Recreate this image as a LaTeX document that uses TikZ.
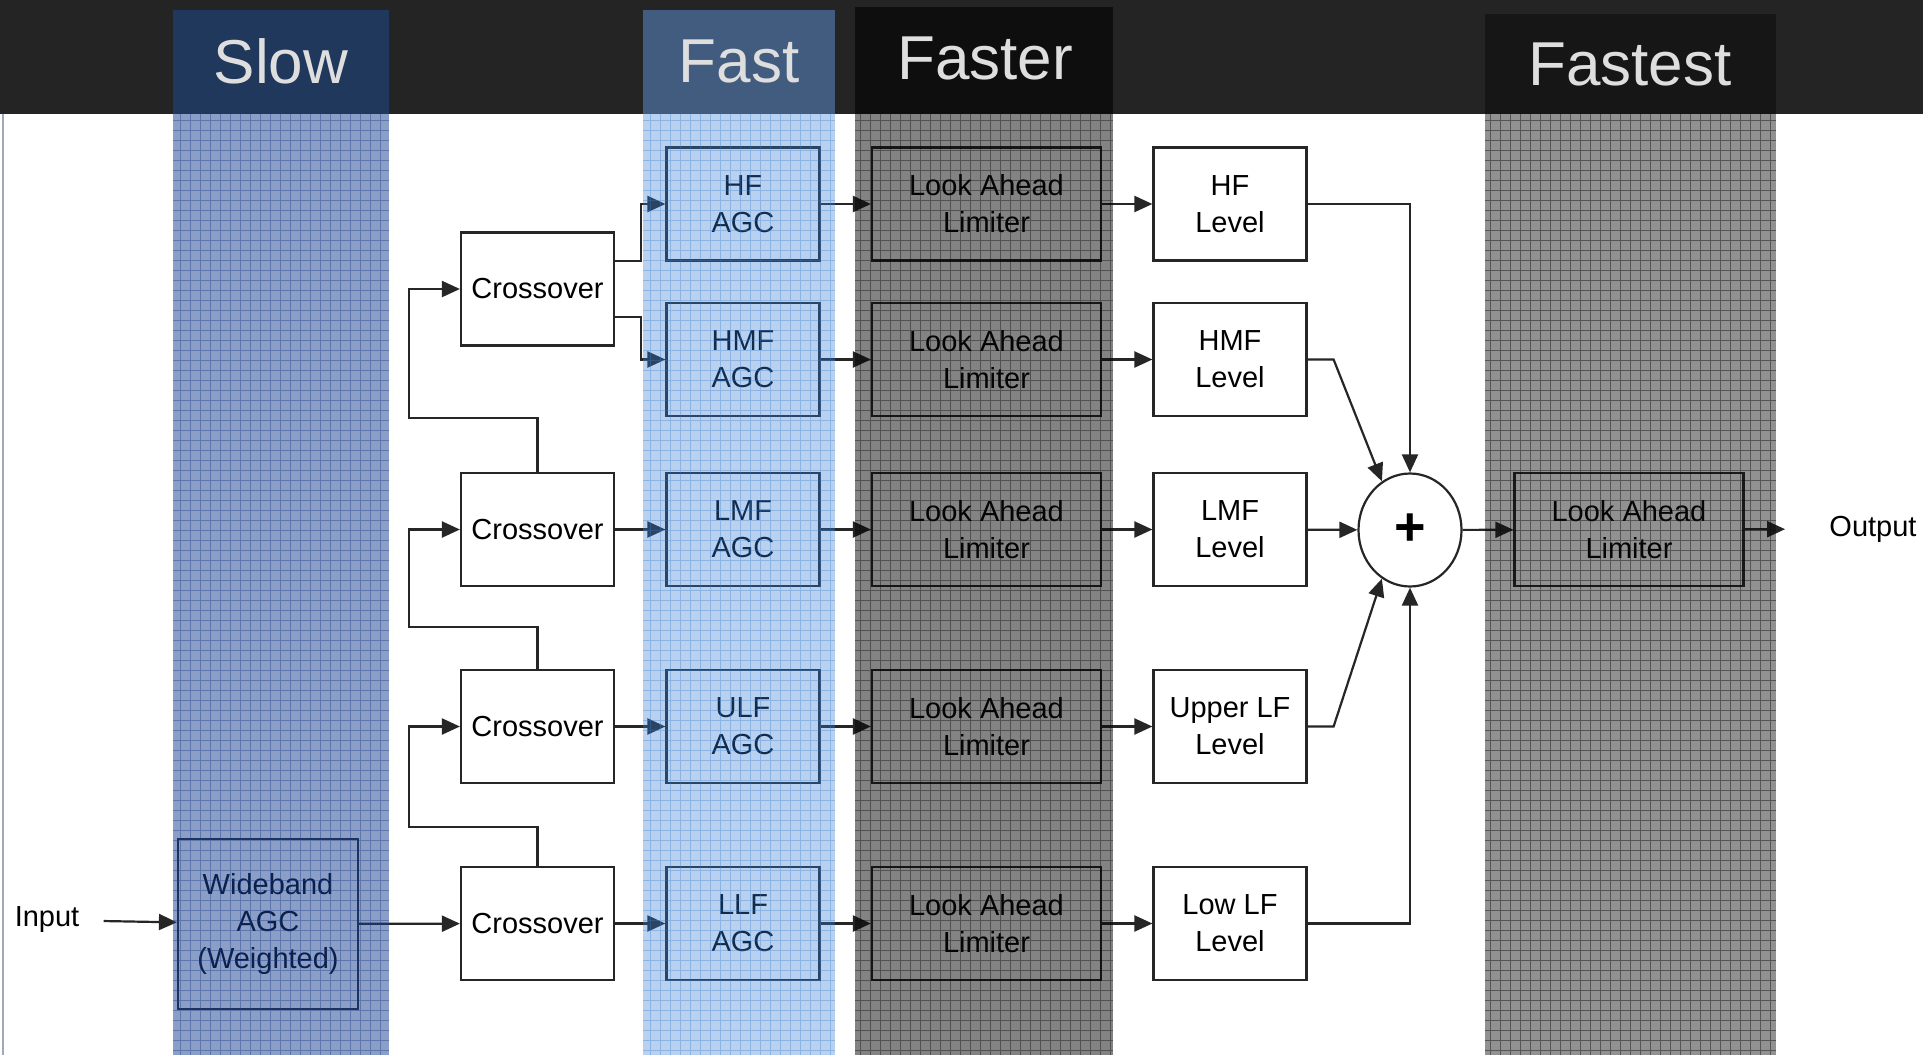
\documentclass[tikz,border=0pt]{standalone}
\usepackage{fontspec}
\setmainfont{Liberation Sans}
\usetikzlibrary{arrows.meta,calc,shapes.geometric}

\definecolor{topbar}{RGB}{36,36,36}
\definecolor{slowhd}{RGB}{31,56,92}
\definecolor{slowbd}{RGB}{25,62,140}
\definecolor{fasthd}{RGB}{66,92,128}
\definecolor{fastbd}{RGB}{55,126,212}
\definecolor{fasterhd}{RGB}{14,14,14}
\definecolor{fasterbd}{RGB}{8,8,8}
\definecolor{fastesthd}{RGB}{22,22,22}
\definecolor{fastestbd}{RGB}{12,12,12}
\definecolor{hdtext}{RGB}{222,222,222}
\definecolor{edge}{RGB}{160,168,190}

\tikzset{
  blk/.style={draw=black!85, line width=1.1pt, fill=white, minimum width=76.5pt, minimum height=56.5pt, inner sep=0pt, align=center, font=\fontsize{14.5}{18.5}\selectfont},
  lal/.style={blk, minimum width=114.5pt},
  conn/.style={draw=black!85, line width=1.1pt},
  arr/.style={conn, -{Triangle[length=9pt,width=8pt]}},
  lbl/.style={inner sep=0pt, font=\fontsize{14.5}{18.5}\selectfont},
  hdr/.style={text=hdtext, font=\fontsize{31}{31}\selectfont},
}

\begin{document}
\begin{tikzpicture}[x=0.5pt,y=0.5pt,yscale=-1,xscale=1]
\useasboundingbox (0,0) rectangle (1923,1055);
\fill[white] (0,0) rectangle (1923,1055);
\draw[edge, line width=0.8pt] (3,114) -- (3,1055);

% Text Node
\node[lbl] (in) at (47,920) {Input};
\node[lbl] (out) at (1873,529) {Output};

%Shape: Rectangle
\node[blk, minimum width=90pt, minimum height=85pt] (wb) at (268,924) {Wideband\\AGC\\(Weighted)};

\node[blk] (c1) at (537.5,289) {Crossover};
\node[blk] (c2) at (537.5,529.5) {Crossover};
\node[blk] (c3) at (537.5,726.5) {Crossover};
\node[blk] (c4) at (537.5,923.5) {Crossover};

\node[blk] (hfa) at (743,204) {HF\\AGC};
\node[blk] (hmfa) at (743,359.5) {HMF\\AGC};
\node[blk] (lmfa) at (743,529.5) {LMF\\AGC};
\node[blk] (ulfa) at (743,726.5) {ULF\\AGC};
\node[blk] (llfa) at (743,923.5) {LLF\\AGC};

\node[lal] (hfx) at (986.5,204) {Look Ahead\\Limiter};
\node[lal] (hmfx) at (986.5,359.5) {Look Ahead\\Limiter};
\node[lal] (lmfx) at (986.5,529.5) {Look Ahead\\Limiter};
\node[lal] (ulfx) at (986.5,726.5) {Look Ahead\\Limiter};
\node[lal] (llfx) at (986.5,923.5) {Look Ahead\\Limiter};

\node[blk] (hfl) at (1230,204) {HF\\Level};
\node[blk] (hmfl) at (1230,359.5) {HMF\\Level};
\node[blk] (lmfl) at (1230,529.5) {LMF\\Level};
\node[blk] (ulfl) at (1230,726.5) {Upper LF\\Level};
\node[blk] (llfl) at (1230,923.5) {Low LF\\Level};

%Shape: Ellipse
\node[ellipse, draw=black!85, line width=1.1pt, fill=white, minimum width=51.5pt, minimum height=56.5pt, inner sep=0pt, font=\fontsize{27}{27}\selectfont\bfseries] (sum) at (1410,530) {\raisebox{-2.5pt}{+}};

\node[lal] (fin) at (1629,529.5) {Look Ahead\\Limiter};

%Straight Lines
\draw[arr, shorten <=12pt] (in) -- (wb);
\draw[arr] (wb) -- (c4);
\draw[arr] (c4.north) |- (409,827) |- (c3.west);
\draw[arr] (c3.north) |- (409,627) |- (c2.west);
\draw[arr] (c2.north) |- (409,418) |- (c1.west);

\draw[arr] ($(c1.east)+(0,-28)$) -- ++(26,0) |- (hfa.west);
\draw[arr] ($(c1.east)+(0,28)$) -- ++(26,0) |- (hmfa.west);
\draw[arr] (c2) -- (lmfa);
\draw[arr] (c3) -- (ulfa);
\draw[arr] (c4) -- (llfa);

\draw[arr] (hfa) -- (hfx);
\draw[arr] (hmfa) -- (hmfx);
\draw[arr] (lmfa) -- (lmfx);
\draw[arr] (ulfa) -- (ulfx);
\draw[arr] (llfa) -- (llfx);

\draw[arr] (hfx) -- (hfl);
\draw[arr] (hmfx) -- (hmfl);
\draw[arr] (lmfx) -- (lmfl);
\draw[arr] (ulfx) -- (ulfl);
\draw[arr] (llfx) -- (llfl);

\draw[arr] (hfl.east) -| (sum.north);
\draw[arr] (hmfl.east) -- ++(26,0) -- (sum.120);
\draw[arr] (lmfl) -- (sum);
\draw[arr] (ulfl.east) -- ++(26,0) -- (sum.240);
\draw[arr] (llfl.east) -| (sum.south);

\draw[arr] (sum) -- (fin);
\draw[arr, shorten >=22pt] (fin) -- (out);

%Shape: Bands
\fill[slowbd, opacity=0.5] (173,114) rectangle (389,1055);
\fill[fastbd, opacity=0.35] (643,114) rectangle (835,1055);
\fill[fasterbd, opacity=0.5] (855,114) rectangle (1113,1055);
\fill[fastestbd, opacity=0.45] (1485,114) rectangle (1776,1055);
\draw[slowbd, opacity=0.4, line width=0.4pt, step=5pt] (173,114) grid (389,1055);
\draw[fastbd, opacity=0.35, line width=0.4pt, step=5pt] (643,114) grid (835,1055);
\draw[fasterbd, opacity=0.4, line width=0.4pt, step=5pt] (855,114) grid (1113,1055);
\draw[fastestbd, opacity=0.45, line width=0.4pt, step=5pt] (1485,114) grid (1776,1055);

%Shape: Header
\fill[topbar] (0,0) rectangle (1923,114);
\fill[slowhd] (173,10) rectangle (389,114);
\fill[fasthd] (643,10) rectangle (835,114);
\fill[fasterhd] (855,7) rectangle (1113,114);
\fill[fastesthd] (1485,14) rectangle (1776,114);

% Text Node
\node[hdr] (slow) at (281,61) {Slow};
\node[hdr] (fast) at (739,61) {Fast};
\node[hdr] (faster) at (985,58) {Faster};
\node[hdr] (fastest) at (1630,64) {Fastest};

\end{tikzpicture}
\end{document}
